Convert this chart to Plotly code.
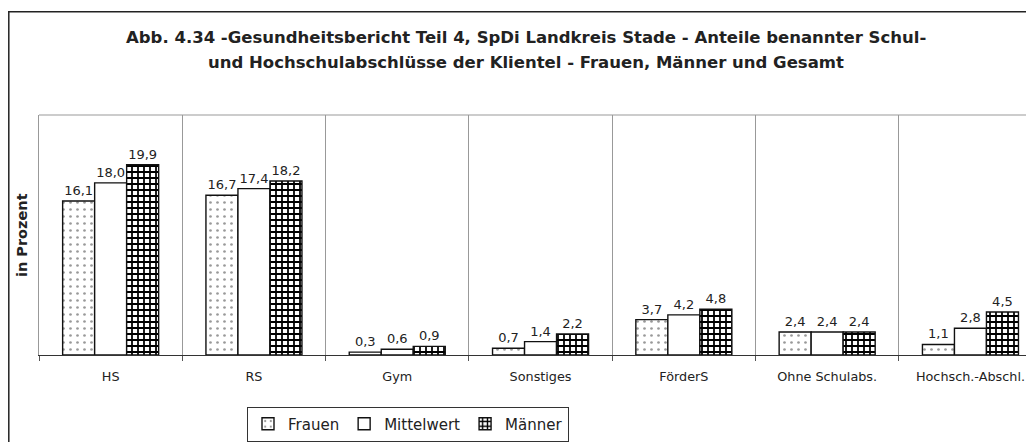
import plotly.graph_objects as go

categories = ["HS", "RS", "Gym", "Sonstiges", "FörderS", "Ohne Schulabs.", "Hochsch.-Abschl."]
frauen = [16.1, 16.7, 0.3, 0.7, 3.7, 2.4, 1.1]
mittelwert = [18.0, 17.4, 0.6, 1.4, 4.2, 2.4, 2.8]
maenner = [19.9, 18.2, 0.9, 2.2, 4.8, 2.4, 4.5]

title_line1 = "Abb. 4.34 -Gesundheitsbericht Teil 4, SpDi Landkreis Stade - Anteile benannter Schul-"
title_line2 = "und Hochschulabschlüsse der Klientel - Frauen, Männer und Gesamt"
y_title = "in Prozent"

# page has an 8px body margin; figure pixel = page pixel - 8
OFF = 8
W, H = 1034 - OFF, 442 - OFF
L = 39 - OFF
T = 115 - OFF
B = H - (357 - OFF)
R = 0
PW, PH = W - L - R, H - T - B
CAT_PX = 143.3


def px_x(x):
    return (x - OFF - L) / PW


def px_y(y):
    return (H - B - (y - OFF)) / PH


FONT = "DejaVu Sans, Liberation Sans, Arial, sans-serif"
line = dict(color="#111", width=1.4)

fig = go.Figure()
fig.add_trace(go.Bar(
    name="Frauen", x=categories, y=frauen,
    marker=dict(color="white", line=line,
                pattern=dict(shape=".", size=7, solidity=0.12, fgcolor="#333", bgcolor="white")),
    texttemplate="%{y:.1f}", textposition="outside", cliponaxis=False,
))
fig.add_trace(go.Bar(
    name="Mittelwert", x=categories, y=mittelwert,
    marker=dict(color="white", line=line),
    texttemplate="%{y:.1f}", textposition="outside", cliponaxis=False,
))
fig.add_trace(go.Bar(
    name="Männer", x=categories, y=maenner,
    marker=dict(color="white", line=line,
                pattern=dict(shape="+", size=6, solidity=0.5, fgcolor="#000", fgopacity=1,
                             bgcolor="white")),
    texttemplate="%{y:.1f}", textposition="outside", cliponaxis=False,
))

fig.update_traces(textfont=dict(family=FONT, size=13, color="#222"))

fig.update_layout(
    width=W, height=H,
    margin=dict(l=L, r=R, t=T, b=B, pad=0),
    paper_bgcolor="white", plot_bgcolor="white",
    separators=",.",
    barmode="group", bargap=0.33, bargroupgap=0,
    font=dict(family=FONT, color="#222"),
    showlegend=True,
    legend=dict(orientation="h", x=px_x(247), xanchor="left", y=px_y(409), yanchor="top",
                bordercolor="#333", borderwidth=1, bgcolor="white",
                font=dict(size=15, family=FONT, color="#222"),
                itemwidth=30, traceorder="normal"),
    xaxis=dict(range=[-0.5, -0.5 + PW / CAT_PX], tickson="boundaries", ticks="outside",
               ticklen=5, tickcolor="#555", showgrid=True, gridcolor="#999", gridwidth=1,
               showline=True, linecolor="#333", linewidth=1.2, ticklabelstandoff=10,
               tickfont=dict(size=12.8, family=FONT, color="#222"), fixedrange=True),
    yaxis=dict(range=[0, 25.1], showticklabels=False, ticks="", showgrid=False,
               zeroline=False, showline=True, linecolor="#999", linewidth=1, fixedrange=True),
    annotations=[
        dict(text="<b>" + title_line1 + "</b>", xref="paper", yref="paper",
             x=px_x(526), y=px_y(37), xanchor="center", yanchor="middle", showarrow=False,
             font=dict(size=16.5, family=FONT, color="#222")),
        dict(text="<b>" + title_line2 + "</b>", xref="paper", yref="paper",
             x=px_x(526), y=px_y(62), xanchor="center", yanchor="middle", showarrow=False,
             font=dict(size=16.5, family=FONT, color="#222")),
        dict(text="<b>" + y_title + "</b>", xref="paper", yref="paper",
             x=px_x(22), y=px_y(236), xanchor="center", yanchor="middle", showarrow=False,
             textangle=-90, font=dict(size=14.5, family=FONT, color="#222")),
    ],
    shapes=[
        dict(type="line", xref="paper", yref="paper", x0=px_x(8.8), x1=px_x(8.8),
             y0=px_y(11), y1=px_y(450), line=dict(color="#222", width=1.5)),
        dict(type="line", xref="paper", yref="paper", x0=px_x(8), x1=px_x(1040),
             y0=px_y(11), y1=px_y(11), line=dict(color="#222", width=1.5)),
        dict(type="line", xref="paper", yref="paper", x0=0, x1=1.01,
             y0=1, y1=1, line=dict(color="#999", width=1)),
    ],
)

fig.write_html("out.html")
